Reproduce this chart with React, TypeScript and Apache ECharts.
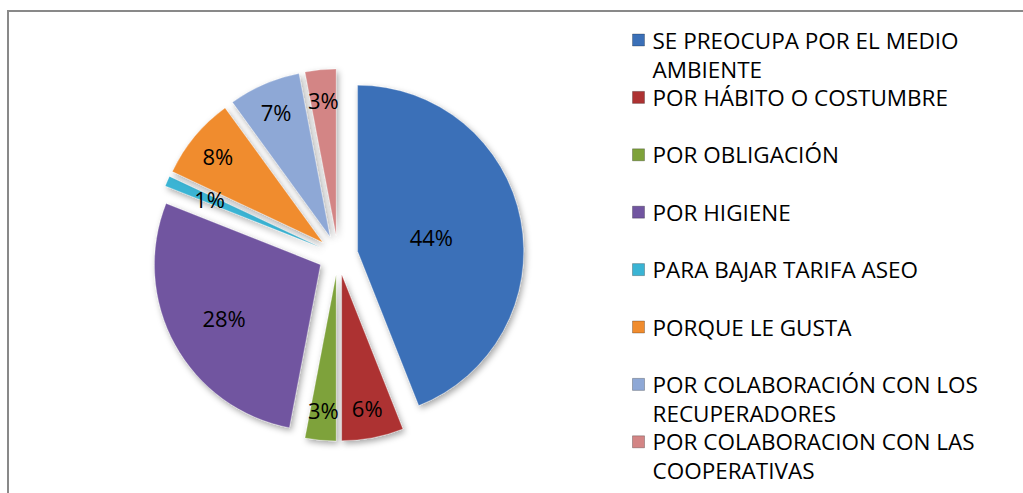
import React, { useEffect, useRef } from "react";
import * as echarts from "echarts";

const categories = [
  "SE PREOCUPA POR EL MEDIO AMBIENTE",
  "POR HÁBITO O COSTUMBRE",
  "POR OBLIGACIÓN",
  "POR HIGIENE",
  "PARA BAJAR TARIFA ASEO",
  "PORQUE LE GUSTA",
  "POR COLABORACIÓN CON LOS RECUPERADORES",
  "POR COLABORACION CON LAS COOPERATIVAS",
];
const values = [44, 6, 3, 28, 1, 8, 7, 3];
const colors = ["#3B70B8", "#AD3232", "#7EA23A", "#7155A0", "#3AB4D4", "#F08C2E", "#8EA8D6", "#D38585"];

const FONT = "Open Sans";
const LEGEND_FS = 22.5;
const LABEL_FS = 22;
const LH = 29;

function wrap(name: string, max = 24): string[] {
  const words = name.split(" ");
  const lines: string[] = [];
  let cur = "";
  for (const w of words) {
    const t = cur ? cur + " " + w : w;
    if (t.length > max && cur) {
      lines.push(cur);
      cur = w;
    } else cur = t;
  }
  if (cur) lines.push(cur);
  return lines;
}

export default function App() {
  const ref = useRef<HTMLDivElement>(null);
  useEffect(() => {
    if (!ref.current) return;
    const chart = echarts.init(ref.current, undefined, { renderer: "svg" });
    const center = [338, 255];
    const R = 166;

    const labelRings = [
      { radius: [40, 144], items: [0] },
      { radius: [100, 154], items: [3] },
      { radius: [120, 154], items: [4] },
      { radius: [138, 168], items: [1, 2, 5, 6, 7] },
    ];

    const mainSeries = {
      type: "pie",
      center,
      radius: R,
      startAngle: 90,
      clockwise: true,
      selectedMode: "multiple",
      selectedOffset: 20,
      legendHoverLink: false,
      emphasis: { disabled: true },
      label: { show: false },
      labelLine: { show: false },
      itemStyle: {
        borderColor: "rgba(255,255,255,0.25)",
        borderWidth: 1,
        shadowBlur: 6,
        shadowColor: "rgba(0,0,0,0.35)",
        shadowOffsetX: 2,
        shadowOffsetY: 3,
      },
      data: categories.map((name, i) => ({
        name,
        value: values[i],
        selected: true,
        itemStyle: { color: colors[i] },
      })),
    };

    const labelSeries = labelRings.map((ring) => ({
      type: "pie",
      center,
      radius: ring.radius,
      startAngle: 90,
      clockwise: true,
      silent: true,
      legendHoverLink: false,
      itemStyle: { color: "rgba(0,0,0,0)", borderWidth: 0 },
      labelLine: { show: false },
      label: {
        show: true,
        position: "inside",
        formatter: "{c}%",
        color: "#000",
        fontFamily: FONT,
        fontSize: LABEL_FS,
      },
      data: categories.map((name, i) => ({
        name,
        value: values[i],
        label: { show: ring.items.includes(i) },
      })),
    }));

    const legends = categories.map((name, i) => {
      const lines = wrap(name);
      const n = lines.length;
      // leading empty lines keep the first text line level with the icon
      const textLines = [...Array(n - 1).fill(""), ...lines];
      const h = (2 * n - 1) * LH;
      const iconTop = 34 + i * 57.4;
      return {
        orient: "vertical",
        left: 632,
        top: iconTop - (h / 2 - 6),
        padding: 0,
        itemWidth: 12,
        itemHeight: 12,
        selectedMode: false,
        icon: "rect",
        formatter: () => textLines.join("\n"),
        textStyle: {
          fontFamily: FONT,
          fontSize: LEGEND_FS,
          color: "#000",
          lineHeight: LH,
          padding: [0, 0, 0, 3],
        },
        data: [
          {
            name,
            itemStyle: { color: colors[i], borderColor: "rgba(0,0,0,0.25)", borderWidth: 1 },
          },
        ],
      };
    });

    chart.setOption({
      animation: false,
      backgroundColor: "#fff",
      graphic: [
        {
          type: "rect",
          shape: { x: 8, y: 11, width: 1100, height: 600 },
          style: { fill: "none", stroke: "#898989", lineWidth: 2 },
          silent: true,
        },
      ],
      legend: legends,
      series: [mainSeries, ...labelSeries],
    });
    return () => chart.dispose();
  }, []);
  return (
    <div
      ref={ref}
      style={{ position: "fixed", left: 0, top: 0, width: 1023, height: 493 }}
    />
  );
}
